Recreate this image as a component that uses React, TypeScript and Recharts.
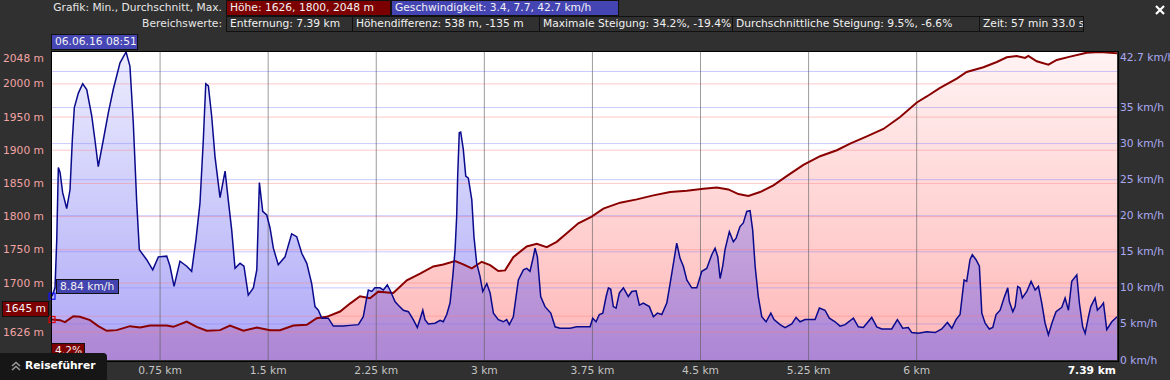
import React from "react";
import {
  ComposedChart,
  Area,
  Line,
  XAxis,
  YAxis,
  ReferenceLine,
  ReferenceDot,
  CartesianGrid,
} from "recharts";

// speed profile: distance (km) / speed (km/h)
const SPEED_KM = [
  0, 0.021, 0.033, 0.044, 0.056, 0.074, 0.102, 0.125, 0.141, 0.155, 0.183, 0.213, 0.241, 0.276, 0.298,
  0.321, 0.356, 0.391, 0.425, 0.472, 0.514, 0.541, 0.564, 0.588, 0.606, 0.657, 0.699, 0.738, 0.796, 0.819,
  0.847, 0.888, 0.935, 0.969, 0.999, 1.027, 1.05, 1.067, 1.085, 1.108, 1.131, 1.166, 1.201, 1.223, 1.247,
  1.27, 1.305, 1.332, 1.362, 1.397, 1.421, 1.439, 1.462, 1.49, 1.513, 1.536, 1.57, 1.617, 1.663, 1.698,
  1.733, 1.768, 1.802, 1.825, 1.848, 1.872, 1.917, 1.952, 2.021, 2.068, 2.126, 2.16, 2.177, 2.195, 2.219,
  2.241, 2.276, 2.299, 2.327, 2.35, 2.38, 2.403, 2.438, 2.473, 2.507, 2.535, 2.559, 2.573, 2.588, 2.611,
  2.658, 2.693, 2.715, 2.739, 2.762, 2.781, 2.797, 2.808, 2.815, 2.826, 2.836, 2.854, 2.871, 2.889, 2.913,
  2.928, 2.947, 2.97, 2.989, 3.017, 3.04, 3.063, 3.097, 3.132, 3.155, 3.173, 3.201, 3.236, 3.271, 3.294,
  3.317, 3.34, 3.352, 3.368, 3.391, 3.421, 3.461, 3.491, 3.525, 3.595, 3.641, 3.734, 3.752, 3.775, 3.798,
  3.822, 3.845, 3.861, 3.877, 3.895, 3.914, 3.937, 3.965, 3.999, 4.023, 4.053, 4.076, 4.103, 4.145, 4.173,
  4.201, 4.231, 4.266, 4.289, 4.312, 4.335, 4.358, 4.381, 4.405, 4.439, 4.474, 4.509, 4.543, 4.578, 4.601,
  4.62, 4.636, 4.654, 4.67, 4.7, 4.728, 4.747, 4.774, 4.797, 4.821, 4.844, 4.862, 4.879, 4.901, 4.925,
  4.955, 4.988, 5.01, 5.052, 5.087, 5.133, 5.163, 5.191, 5.226, 5.26, 5.295, 5.325, 5.364, 5.394, 5.434,
  5.468, 5.503, 5.561, 5.595, 5.63, 5.688, 5.723, 5.758, 5.827, 5.866, 5.903, 5.942, 5.966, 6.011, 6.07,
  6.128, 6.174, 6.213, 6.244, 6.273, 6.301, 6.329, 6.347, 6.37, 6.386, 6.412, 6.435, 6.452, 6.475, 6.504,
  6.528, 6.551, 6.579, 6.606, 6.632, 6.643, 6.667, 6.683, 6.701, 6.717, 6.733, 6.764, 6.794, 6.822, 6.845,
  6.868, 6.891, 6.914, 6.938, 6.967, 7.007, 7.03, 7.053, 7.076, 7.111, 7.129, 7.152, 7.169, 7.192, 7.208,
  7.238, 7.254, 7.278, 7.296, 7.319, 7.354, 7.39,
];
const SPEED_KMH = [
  8.84, 10, 16.7, 26.7, 26, 23.2, 21, 23.6, 30.5, 35, 37, 38.3, 37.5, 33.8, 30.5,
  26.8, 30.5, 34.3, 37.5, 41.2, 42.7, 40.7, 32.9, 21.8, 15.3, 13.9, 12.5, 14.3, 14.4, 13,
  10.2, 13.7, 13, 12.3, 16.7, 21.8, 30.5, 38.3, 38, 33.8, 28.2, 22.5, 26.2, 22.2, 18,
  12.7, 13.4, 13, 9, 10, 12.5, 24.6, 20.6, 20.1, 18.3, 15.5, 13.2, 14.3, 17.5, 17.1,
  14.8, 13.4, 10.6, 7.4, 6.9, 5.8, 5.8, 4.7, 4.7, 4.8, 4.9, 6, 7.9, 9.7, 9.5,
  10, 10, 9.7, 10.4, 9.5, 8.1, 7.6, 6.9, 6.7, 5.6, 4.5, 6, 6.9, 5.6, 5,
  5.1, 5.5, 5.3, 6.3, 7.9, 11.6, 15.3, 19.9, 25.5, 31.5, 31.6, 29.2, 25.5, 25.2, 22.2,
  17.1, 13.4, 11.6, 9.5, 10.6, 9.3, 6.5, 5.6, 5.3, 5.6, 4.9, 6, 11.1, 12.5, 12.7,
  12.3, 14.3, 15.5, 14.3, 8.8, 7.4, 6.5, 4.6, 4.4, 4.4, 4.6, 4.6, 5.8, 5.3, 6.3,
  6.5, 8.8, 10, 9.8, 7.4, 7.2, 9.3, 10, 8.8, 9.5, 9.6, 7.6, 7.9, 7.4, 6,
  6.5, 6.3, 7.9, 10.6, 13.4, 16.2, 14.1, 13, 11.1, 10, 10, 12.3, 12.7, 14.6, 15.5,
  14.3, 11.3, 13, 15.3, 17.8, 16.4, 16.9, 18.5, 19, 20.6, 20.7, 18, 13, 8.8, 6,
  5.3, 6.5, 5.6, 4.9, 4.5, 5, 5.9, 5.3, 5.6, 5.6, 5.6, 7.2, 6.9, 5.8, 5.3,
  4.7, 4.9, 5.8, 4.6, 4.5, 5.9, 4.6, 4.3, 4.3, 5.6, 4.4, 4.5, 3.8, 3.7, 3.9,
  3.8, 4.3, 5.2, 4.4, 5.6, 6.3, 11.1, 10.9, 13.9, 14.6, 13.9, 13, 6.5, 5.1, 4.3,
  4.5, 6.3, 6.9, 8.6, 10, 8.1, 6.7, 7.4, 10.2, 10, 8.6, 9.5, 10.9, 9.7, 10.2,
  7.9, 5.1, 3.5, 5.1, 6.7, 7.3, 8.6, 6.9, 10.9, 11.8, 7.9, 4.6, 3.7, 6, 7.4,
  8.6, 6.9, 7.4, 7.9, 4.2, 5.3, 6,
];

// elevation profile: distance (km) / height (m)
const ELEV_KM = [
  0, 0.056, 0.09, 0.148, 0.194, 0.264, 0.321, 0.38, 0.449, 0.541, 0.611, 0.68, 0.796, 0.842, 0.935,
  1.004, 1.074, 1.166, 1.235, 1.328, 1.421, 1.513, 1.582, 1.675, 1.768, 1.837, 1.906, 1.999, 2.068, 2.137,
  2.207, 2.264, 2.368, 2.462, 2.554, 2.646, 2.715, 2.797, 2.854, 2.913, 2.982, 3.04, 3.097, 3.144, 3.201,
  3.294, 3.364, 3.433, 3.502, 3.572, 3.652, 3.745, 3.826, 3.942, 4.058, 4.173, 4.289, 4.405, 4.52, 4.613,
  4.693, 4.763, 4.832, 4.913, 5.006, 5.098, 5.214, 5.33, 5.446, 5.538, 5.654, 5.769, 5.885, 6.001, 6.07,
  6.162, 6.278, 6.347, 6.463, 6.556, 6.625, 6.694, 6.752, 6.775, 6.833, 6.914, 6.972, 7.065, 7.18, 7.273,
  7.39,
];
const ELEV_M = [
  1645, 1644, 1641, 1650, 1649, 1644, 1635, 1628, 1629, 1635, 1633, 1636, 1636, 1634, 1642,
  1634, 1628, 1629, 1636, 1628, 1633, 1629, 1629, 1636, 1637, 1647, 1649, 1657, 1669, 1680,
  1677, 1687, 1685, 1704, 1714, 1725, 1728, 1733, 1728, 1722, 1732, 1727, 1718, 1719, 1739,
  1755, 1759, 1754, 1762, 1775, 1790, 1800, 1812, 1821, 1826, 1832, 1837, 1839, 1842, 1844,
  1841, 1834, 1831, 1837, 1847, 1861, 1878, 1891, 1900, 1910, 1921, 1932, 1950, 1972, 1981,
  1994, 2008, 2018, 2025, 2033, 2040, 2042, 2039, 2042, 2034, 2029, 2036, 2041, 2047, 2048,
  2046,
];

const X_TICKS = [0.75, 1.5, 2.25, 3, 3.75, 4.5, 5.25, 6, 7.39];
const X_GRID = [0.75, 1.5, 2.25, 3, 3.75, 4.5, 5.25, 6];
const ELEV_TICKS = [1626, 1700, 1750, 1800, 1850, 1900, 1950, 2000, 2048];
const ELEV_GRID = [1626, 1650, 1700, 1750, 1800, 1850, 1900, 1950, 2000];
const SPEED_TICKS = [0, 5, 10, 15, 20, 25, 30, 35, 42.7];
const SPEED_GRID = [5, 10, 15, 20, 25, 30, 35, 40];

const CURSOR_KM = 0;
const CURSOR_ELEV = 1645;
const CURSOR_SPEED = 8.84;

const FONT = "'DejaVu Sans', sans-serif";

type Row = { km: number; speed: number | null; elev: number | null };

function buildRows(): Row[] {
  const map = new Map<number, Row>();
  SPEED_KM.forEach((k, i) => {
    const r = map.get(k) ?? { km: k, speed: null, elev: null };
    r.speed = SPEED_KMH[i];
    map.set(k, r);
  });
  ELEV_KM.forEach((k, i) => {
    const r = map.get(k) ?? { km: k, speed: null, elev: null };
    r.elev = ELEV_M[i];
    map.set(k, r);
  });
  return [...map.values()].sort((a, b) => a.km - b.km);
}

const rows = buildRows();

function ElevTick(props: any) {
  const v = props.payload.value;
  const y = v === 2048 ? props.y + 6.5 : props.y;
  return (
    <text x={44} y={y} textAnchor="end" dominantBaseline="central" fill="#f0a4a4" fontSize={10.7} fontFamily={FONT}>
      {v} m
    </text>
  );
}

function SpeedTick(props: any) {
  const v = props.payload.value;
  const y = v === 42.7 ? props.y + 5.5 : props.y;
  return (
    <text x={1120} y={y} textAnchor="start" dominantBaseline="central" fill="#aaaaf2" fontSize={10.7} fontFamily={FONT}>
      {v} km/h
    </text>
  );
}

function DistTick(props: any) {
  const v = props.payload.value;
  const last = v === 7.39;
  return (
    <text
      x={last ? props.x - 1 : props.x}
      y={370}
      textAnchor={last ? "end" : "middle"}
      dominantBaseline="central"
      fill={last ? "#ffffff" : "#c4c4c4"}
      fontWeight={last ? "bold" : "normal"}
      fontSize={10.7}
      fontFamily={FONT}
    >
      {v} km
    </text>
  );
}

const box = (
  left: number,
  top: number,
  width: number,
  height: number,
  bg: string
): React.CSSProperties => ({
  position: "absolute",
  left,
  top,
  width,
  height,
  background: bg,
  border: "1px solid #111",
  boxSizing: "border-box",
  color: "#f2f2f2",
  fontSize: 10.7,
  lineHeight: `${height - 2}px`,
  paddingLeft: 3,
  whiteSpace: "nowrap",
  overflow: "hidden",
});

const HEADER_ROW2 = [
  { left: 226, right: 352, text: "Entfernung: 7.39 km" },
  { left: 352, right: 539, text: "Höhendifferenz: 538 m, -135 m" },
  { left: 539, right: 732, text: "Maximale Steigung: 34.2%, -19.4%" },
  { left: 732, right: 979, text: "Durchschnittliche Steigung: 9.5%, -6.6%" },
  { left: 979, right: 1083, text: "Zeit: 57 min 33.0 s" },
];

export default function App() {
  return (
    <div
      style={{
        position: "absolute",
        left: 0,
        top: 0,
        width: 1170,
        height: 380,
        background: "#303030",
        overflow: "hidden",
        fontFamily: FONT,
      }}
    >
      <ComposedChart
        width={1170}
        height={380}
        data={rows}
        margin={{ top: 52, right: 0, bottom: 0, left: 0 }}
        style={{ position: "absolute", left: 0, top: 0 }}
      >
        <defs>
          <linearGradient id="elevFill" x1="0" y1="0" x2="0" y2="1">
            <stop offset="0%" stopColor="#fff3f3" />
            <stop offset="100%" stopColor="#ffb6b6" />
          </linearGradient>
          <linearGradient id="speedFill" x1="0" y1="0" x2="0" y2="1">
            <stop offset="0%" stopColor="#6666f2" stopOpacity={0.12} />
            <stop offset="100%" stopColor="#6a5ef0" stopOpacity={0.55} />
          </linearGradient>
        </defs>
        <CartesianGrid yAxisId="elev" horizontal={false} vertical={false} fill="#ffffff" fillOpacity={1} />
        <XAxis
          dataKey="km"
          type="number"
          domain={[0, 7.39]}
          ticks={X_TICKS}
          tick={<DistTick />}
          axisLine={false}
          tickLine={false}
          height={20}
          allowDataOverflow
        />
        <YAxis
          yAxisId="elev"
          domain={[1584, 2048]}
          ticks={ELEV_TICKS}
          tick={<ElevTick />}
          axisLine={false}
          tickLine={false}
          width={52}
          allowDataOverflow
        />
        <YAxis
          yAxisId="spd"
          orientation="right"
          domain={[0, 42.7]}
          ticks={SPEED_TICKS}
          tick={<SpeedTick />}
          axisLine={false}
          tickLine={false}
          width={53}
          allowDataOverflow
        />
        <Area
          yAxisId="elev"
          dataKey="elev"
          type="linear"
          stroke="none"
          fill="url(#elevFill)"
          fillOpacity={1}
          connectNulls
          baseValue="dataMin"
          isAnimationActive={false}
        />
        <Area
          yAxisId="spd"
          dataKey="speed"
          type="linear"
          stroke="none"
          fill="url(#speedFill)"
          fillOpacity={1}
          connectNulls
          baseValue={0}
          isAnimationActive={false}
        />
        {ELEV_GRID.map((v) => (
          <ReferenceLine key={`e${v}`} yAxisId="elev" y={v} stroke="#ff7a7a" strokeOpacity={0.4} />
        ))}
        {SPEED_GRID.map((v) => (
          <ReferenceLine key={`s${v}`} yAxisId="spd" y={v} stroke="#7a7aff" strokeOpacity={0.4} />
        ))}
        {X_GRID.map((v) => (
          <ReferenceLine key={`x${v}`} yAxisId="elev" x={v} stroke="#5a5a5a" strokeOpacity={0.6} />
        ))}
        <Line
          yAxisId="elev"
          dataKey="elev"
          type="linear"
          stroke="#8a0000"
          strokeWidth={2}
          dot={false}
          connectNulls
          isAnimationActive={false}
        />
        <Line
          yAxisId="spd"
          dataKey="speed"
          type="linear"
          stroke="#0a0a8c"
          strokeWidth={1.5}
          dot={false}
          connectNulls
          isAnimationActive={false}
        />
        <ReferenceDot
          yAxisId="elev"
          x={CURSOR_KM}
          y={CURSOR_ELEV}
          shape={(p: any) => (
            <rect x={p.cx - 3} y={p.cy - 3} width={6} height={6} fill="none" stroke="#e00000" strokeWidth={1.2} />
          )}
        />
        <ReferenceDot
          yAxisId="spd"
          x={CURSOR_KM}
          y={CURSOR_SPEED}
          shape={(p: any) => (
            <rect x={p.cx - 3} y={p.cy - 3} width={6} height={6} fill="none" stroke="#1010ff" strokeWidth={1.2} />
          )}
        />
      </ComposedChart>

      {/* plot frame */}
      <div
        style={{
          position: "absolute",
          left: 51,
          top: 51,
          width: 1068,
          height: 311,
          border: "1px solid #000",
          boxSizing: "border-box",
          pointerEvents: "none",
        }}
      />

      {/* header */}
      <div style={{ position: "absolute", right: 1170 - 222, top: 0, height: 16, lineHeight: "16px", fontSize: 10.7, color: "#e6e6e6", whiteSpace: "nowrap" }}>
        Grafik: Min., Durchschnitt, Max.
      </div>
      <div style={box(226, 0, 165, 16, "#7c0000")}>Höhe: 1626, 1800, 2048 m</div>
      <div style={box(391, 0, 228, 16, "#4444b2")}>Geschwindigkeit: 3.4, 7.7, 42.7 km/h</div>
      <div style={{ position: "absolute", right: 1170 - 222, top: 16, height: 16, lineHeight: "16px", fontSize: 10.7, color: "#e6e6e6", whiteSpace: "nowrap" }}>
        Bereichswerte:
      </div>
      {HEADER_ROW2.map((h) => (
        <div key={h.text} style={box(h.left, 16, h.right - h.left + 1, 16, "#303030")}>
          {h.text}
        </div>
      ))}
      <svg style={{ position: "absolute", left: 1155, top: 5 }} width={10} height={10}>
        <path d="M1 1 L9 9 M9 1 L1 9" stroke="#ffffff" strokeWidth={2.2} />
      </svg>

      {/* cursor labels */}
      <div style={box(51, 34, 87, 16, "#4646b4")}>06.06.16 08:51</div>
      <div style={{ ...box(2, 301, 47, 16, "#7c0000"), paddingLeft: 0, textAlign: "center" }}>1645 m</div>
      <div style={box(56, 279, 63, 15, "#4444b0")}>8.84 km/h</div>
      <div style={box(51, 343, 34, 15, "#7c0000")}>4.2%</div>

      {/* Reiseführer tab */}
      <div
        style={{
          position: "absolute",
          left: 0,
          top: 353,
          width: 107,
          height: 27,
          background: "#161616",
          borderTopRightRadius: 4,
          color: "#ffffff",
          fontWeight: "bold",
          fontSize: 10.7,
          lineHeight: "26px",
        }}
      >
        <svg style={{ position: "absolute", left: 11, top: 8 }} width={10} height={10}>
          <path d="M1 5 L5 1.5 L9 5 M1 9 L5 5.5 L9 9" stroke="#9a9a9a" strokeWidth={1.6} fill="none" />
        </svg>
        <span style={{ position: "absolute", left: 25 }}>Reiseführer</span>
      </div>
    </div>
  );
}
